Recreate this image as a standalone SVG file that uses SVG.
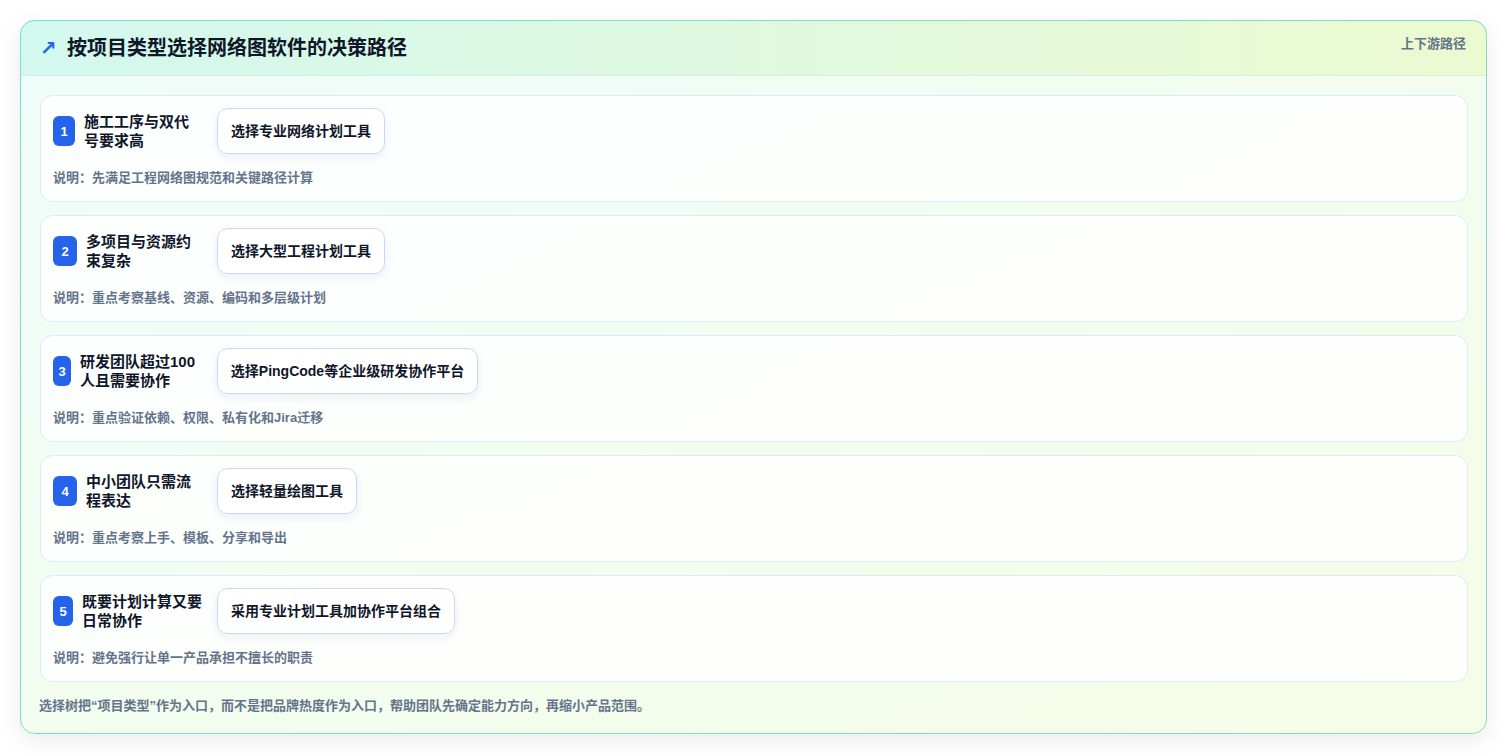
<svg xmlns="http://www.w3.org/2000/svg" width="1507" height="756" viewBox="0 0 1507 756">
<defs>
<linearGradient id="hdr" x1="0" y1="0" x2="1" y2="0">
<stop offset="0" stop-color="#d3f8ee"/>
<stop offset="1" stop-color="#ecfad0"/>
</linearGradient>
<linearGradient id="body" x1="0" y1="0" x2="1" y2="1">
<stop offset="0" stop-color="#effdf9"/>
<stop offset="1" stop-color="#f6fde6"/>
</linearGradient>
<clipPath id="cardclip"><rect x="20" y="20" width="1467" height="714" rx="14"/></clipPath>
<filter id="cardshadow" x="-5%" y="-10%" width="110%" height="120%">
<feDropShadow dx="0" dy="6" stdDeviation="10" flood-color="#0f172a" flood-opacity="0.08"/>
</filter>
<filter id="btnshadow" x="-20%" y="-40%" width="140%" height="190%">
<feDropShadow dx="0" dy="4" stdDeviation="5" flood-color="#1e3a8a" flood-opacity="0.08"/>
</filter>
<style>
.row{fill:#ffffff;fill-opacity:0.85;stroke:#dbeafe;stroke-width:1}
.badge{fill:#2563eb}
.bnum{font-family:"Liberation Sans","Noto Sans CJK SC",sans-serif;font-size:13px;font-weight:700;fill:#ffffff}
.lbl{font-family:"Liberation Sans","Noto Sans CJK SC",sans-serif;font-size:15px;font-weight:700;fill:#0f172a}
.btn{fill:#ffffff;stroke:#c7d7f5;stroke-width:1}
.btxt{font-family:"Liberation Sans","Noto Sans CJK SC",sans-serif;font-size:14px;font-weight:700;fill:#0f172a}
.desc{font-family:"Liberation Sans","Noto Sans CJK SC",sans-serif;font-size:13px;font-weight:700;fill:#64748b}
</style>
</defs>
<rect x="0" y="0" width="1507" height="756" fill="#ffffff"/>
<g id="card">
<rect x="20" y="20" width="1467" height="714" rx="14" fill="url(#body)" filter="url(#cardshadow)"/>
<g clip-path="url(#cardclip)">
<rect x="20" y="20" width="1467" height="55" fill="url(#hdr)"/>
<line x1="20" y1="75.5" x2="1487" y2="75.5" stroke="#d5efe6" stroke-width="1"/>
</g>
<rect x="20.5" y="20.5" width="1466" height="713" rx="14" fill="none" stroke="#7fdcca" stroke-width="1"/>
<text x="40" y="55" font-family="DejaVu Sans,sans-serif" font-size="20" font-weight="700" fill="#2563eb">↗</text>
<text x="67" y="55" font-family="Liberation Sans,Noto Sans CJK SC,sans-serif" font-size="20" font-weight="700" fill="#0f172a">按项目类型选择网络图软件的决策路径</text>
<text x="1466" y="48" text-anchor="end" font-family="Liberation Sans,Noto Sans CJK SC,sans-serif" font-size="13" font-weight="700" fill="#64748b">上下游路径</text>
</g>
<g id="node1">
<rect class="row" x="40.5" y="95.5" width="1427" height="106" rx="12"/>
<rect class="badge" x="53" y="116" width="22" height="30" rx="6"/>
<text class="bnum" x="64" y="135.5" text-anchor="middle">1</text>
<text class="lbl" x="84" y="127">施工工序与双代</text>
<text class="lbl" x="84" y="146">号要求高</text>
<rect class="btn" x="217.5" y="108.5" width="167" height="45" rx="10" filter="url(#btnshadow)"/>
<text class="btxt" x="301" y="135.5" text-anchor="middle">选择专业网络计划工具</text>
<text class="desc" x="53" y="182">说明：先满足工程网络图规范和关键路径计算</text>
</g>
<g id="node2">
<rect class="row" x="40.5" y="215.5" width="1427" height="106" rx="12"/>
<rect class="badge" x="53" y="236" width="24" height="30" rx="6"/>
<text class="bnum" x="65" y="255.5" text-anchor="middle">2</text>
<text class="lbl" x="86" y="247">多项目与资源约</text>
<text class="lbl" x="86" y="266">束复杂</text>
<rect class="btn" x="217.5" y="228.5" width="167" height="45" rx="10" filter="url(#btnshadow)"/>
<text class="btxt" x="301" y="255.5" text-anchor="middle">选择大型工程计划工具</text>
<text class="desc" x="53" y="302">说明：重点考察基线、资源、编码和多层级计划</text>
</g>
<g id="node3">
<rect class="row" x="40.5" y="335.5" width="1427" height="106" rx="12"/>
<rect class="badge" x="53" y="356" width="18" height="30" rx="6"/>
<text class="bnum" x="62" y="375.5" text-anchor="middle">3</text>
<text class="lbl" x="80" y="367">研发团队超过100</text>
<text class="lbl" x="80" y="386">人且需要协作</text>
<rect class="btn" x="217.5" y="348.5" width="260" height="45" rx="10" filter="url(#btnshadow)"/>
<text class="btxt" x="347.5" y="375.5" text-anchor="middle">选择PingCode等企业级研发协作平台</text>
<text class="desc" x="53" y="422">说明：重点验证依赖、权限、私有化和Jira迁移</text>
</g>
<g id="node4">
<rect class="row" x="40.5" y="455.5" width="1427" height="106" rx="12"/>
<rect class="badge" x="53" y="476" width="24" height="30" rx="6"/>
<text class="bnum" x="65" y="495.5" text-anchor="middle">4</text>
<text class="lbl" x="86" y="487">中小团队只需流</text>
<text class="lbl" x="86" y="506">程表达</text>
<rect class="btn" x="217.5" y="468.5" width="139" height="45" rx="10" filter="url(#btnshadow)"/>
<text class="btxt" x="287" y="495.5" text-anchor="middle">选择轻量绘图工具</text>
<text class="desc" x="53" y="542">说明：重点考察上手、模板、分享和导出</text>
</g>
<g id="node5">
<rect class="row" x="40.5" y="575.5" width="1427" height="106" rx="12"/>
<rect class="badge" x="53" y="596" width="20" height="30" rx="6"/>
<text class="bnum" x="63" y="615.5" text-anchor="middle">5</text>
<text class="lbl" x="82" y="607">既要计划计算又要</text>
<text class="lbl" x="82" y="626">日常协作</text>
<rect class="btn" x="217.5" y="588.5" width="237" height="45" rx="10" filter="url(#btnshadow)"/>
<text class="btxt" x="336" y="615.5" text-anchor="middle">采用专业计划工具加协作平台组合</text>
<text class="desc" x="53" y="662">说明：避免强行让单一产品承担不擅长的职责</text>
</g>
<g id="connectors"></g>
<text x="39" y="710" font-family="Liberation Sans,Noto Sans CJK SC,sans-serif" font-size="13" font-weight="700" fill="#64748b">选择树把“项目类型”作为入口，而不是把品牌热度作为入口，帮助团队先确定能力方向，再缩小产品范围。</text>
</svg>
